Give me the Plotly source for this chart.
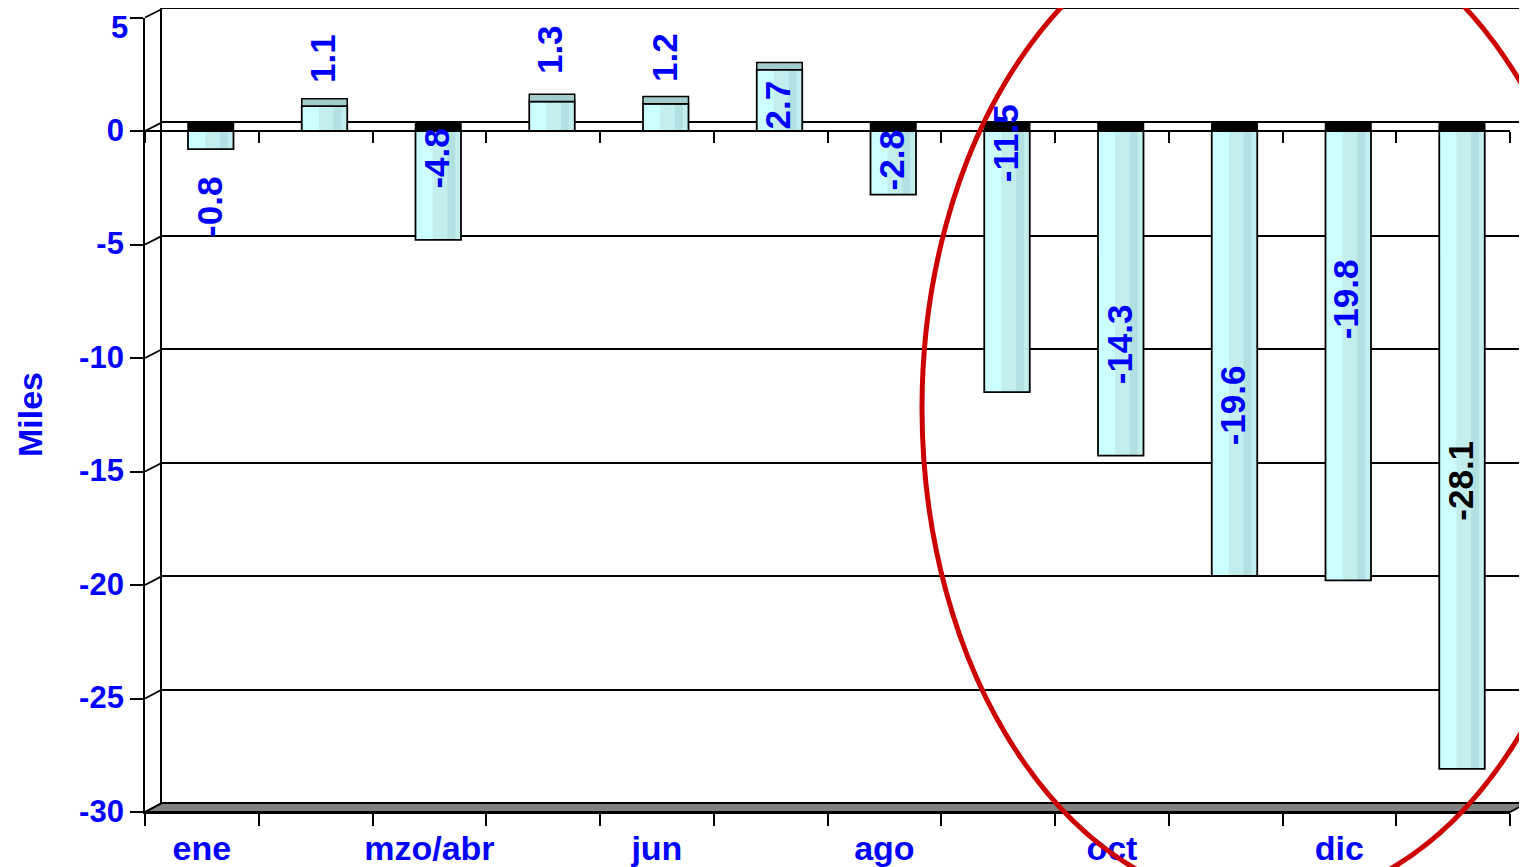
import plotly.graph_objects as go

# ---------------- data ----------------
categories = ["ene", "feb", "mzo/abr", "may", "jun", "jul", "ago", "sep", "oct", "nov", "dic", "ene sig."]
tick_labels = ["ene", "", "mzo/abr", "", "jun", "", "ago", "", "oct", "", "dic", ""]
values = [-0.8, 1.1, -4.8, 1.3, 1.2, 2.7, -2.8, -11.5, -14.3, -19.6, -19.8, -28.1]
y_ticks = [5, 0, -5, -10, -15, -20, -25, -30]
y_tick_text = ["5", "0", "-5", "-10", "-15", "-20", "-25", "-30"]

# label placement (value units) and colours
label_pos = [-3.35, 3.2, -1.2, 3.57, 3.26, 1.15, -1.28, -0.53, -9.4, -12.1, -7.4, -15.4]
label_colors = ["#0000ff"] * 11 + ["#000000"]

# ---------------- geometry / style ----------------
OFF = 8                      # page body margin of the browser
W, H = 1527 - OFF, 867 - OFF
FRONT_L, FRONT_R, FRONT_T, FRONT_B = 145 - OFF, 1510 - OFF, 17.5 - OFF, 812 - OFF
BACK_L, BACK_R, BACK_T, BACK_B = 162 - OFF, 1527 - OFF, 9 - OFF, 803 - OFF
ML, MT = FRONT_L, BACK_T
MR, MB = W - BACK_R, H - FRONT_B
PW, PH = W - ML - MR, H - MT - MB
DX, DY = (BACK_L - FRONT_L) / PW, (FRONT_B - BACK_B) / PH
FRONT_X1 = (FRONT_R - ML) / PW
FRONT_Y1 = (FRONT_B - FRONT_T) / PH
YMIN, YMAX = -30, 5
FONT = "Liberation Sans, Arial, sans-serif"
BLUE = "#0000ff"
TICK_LEN = 13

BAR_OFF, BAR_W = -0.122, 0.40
CAP_H = 0.32


def px_x(p):
    return (p - OFF - ML) / PW


def px_y(p):
    return (H - MB - (p - OFF)) / PH


fig = go.Figure()

# back wall subplot (x, y) - only gridlines
fig.add_trace(go.Scatter(x=[], y=[], xaxis="x", yaxis="y", showlegend=False))

# cylinder-like bars on front subplot (x2, y2)
fig.add_trace(go.Bar(x=categories, y=values, xaxis="x2", yaxis="y2",
                     offset=BAR_OFF, width=BAR_W, marker=dict(color="#ccffff", line=dict(width=0)),
                     showlegend=False, hoverinfo="skip"))
fig.add_trace(go.Bar(x=categories, y=values, xaxis="x2", yaxis="y2",
                     offset=BAR_OFF + 0.15, width=BAR_W - 0.15, marker=dict(color="#c2eeee", line=dict(width=0)),
                     showlegend=False, hoverinfo="skip"))
fig.add_trace(go.Bar(x=categories, y=values, xaxis="x2", yaxis="y2",
                     offset=BAR_OFF + 0.28, width=BAR_W - 0.33, marker=dict(color="#b3e1e1", line=dict(width=0)),
                     showlegend=False, hoverinfo="skip"))
fig.add_trace(go.Bar(x=categories, y=values, xaxis="x2", yaxis="y2",
                     offset=BAR_OFF, width=BAR_W,
                     marker=dict(color="rgba(0,0,0,0)", line=dict(color="black", width=1.8)),
                     showlegend=False, hoverinfo="skip"))
# caps: top for positive bars, dark opening at zero for negative bars
fig.add_trace(go.Bar(x=categories, y=[CAP_H] * len(values), base=[max(v, 0) for v in values],
                     xaxis="x2", yaxis="y2", offset=BAR_OFF, width=BAR_W,
                     marker=dict(color=["#a3cccc" if v > 0 else "#000000" for v in values],
                                 line=dict(color="black", width=1.5)),
                     showlegend=False, hoverinfo="skip"))
# axis at zero with boundary ticks
fig.add_trace(go.Scatter(x=[], y=[], xaxis="x3", yaxis="y2", showlegend=False))

tickfont = dict(family=FONT, size=31, color=BLUE, weight="bold")

# the top tick label would be clipped by the page edge: draw it as an annotation instead
shown_y_tick_text = ["" if v == YMAX else t for v, t in zip(y_ticks, y_tick_text)]

fig.update_layout(
    width=W, height=H,
    margin=dict(l=ML, r=MR, t=MT, b=MB, autoexpand=False),
    paper_bgcolor="white", plot_bgcolor="rgba(0,0,0,0)",
    barmode="overlay",
    showlegend=False,
    xaxis=dict(domain=[DX, 1], anchor="y", range=[0, 1], showticklabels=False, ticks="",
               showgrid=False, zeroline=False, showline=True, mirror=True, automargin=False,
               linecolor="black", linewidth=1.8, fixedrange=True),
    yaxis=dict(domain=[DY, 1], anchor="x", range=[YMIN, YMAX], tickvals=y_ticks,
               showticklabels=False, ticks="", showgrid=True, gridcolor="black", gridwidth=1.5,
               zeroline=False, showline=True, linecolor="black", linewidth=1.8, automargin=False,
               fixedrange=True),
    xaxis2=dict(domain=[0, FRONT_X1], anchor="y2", type="category", categoryorder="array",
                categoryarray=categories, range=[-0.5, len(categories) - 0.5],
                tickmode="array", tickvals=categories, ticktext=tick_labels, tickangle=0,
                tickson="boundaries", ticks="outside", ticklen=12, tickwidth=1.8, tickcolor="black",
                ticklabelstandoff=5,
                showgrid=False, zeroline=False, showline=True, linecolor="black", linewidth=1.8,
                automargin=False,
                tickfont=dict(family=FONT, size=34, color=BLUE, weight="bold"), fixedrange=True),
    yaxis2=dict(domain=[0, FRONT_Y1], anchor="x2", range=[YMIN, YMAX],
                tickmode="array", tickvals=y_ticks, ticktext=shown_y_tick_text,
                ticks="outside", ticklen=TICK_LEN, tickwidth=1.8, tickcolor="black",
                ticklabelshift=-1,
                showgrid=False, zeroline=True, zerolinecolor="black", zerolinewidth=1.8,
                showline=True, linecolor="black", linewidth=1.8, tickfont=tickfont,
                automargin=False, fixedrange=True),
    xaxis3=dict(overlaying="x2", anchor="free", side="bottom",
                position=FRONT_Y1 * (0 - YMIN) / (YMAX - YMIN),
                range=[-0.5, len(categories) - 0.5],
                tickvals=[i - 0.5 for i in range(len(categories) + 1)],
                showticklabels=False, ticks="outside", ticklen=11, tickwidth=1.8, tickcolor="black",
                showgrid=False, zeroline=False, showline=True, linecolor="black", linewidth=1.8,
                automargin=False, fixedrange=True),
)

shapes = []
# floor
shapes.append(dict(type="path", xref="paper", yref="paper",
                   path=f"M 0,0 L {DX},{DY} L 1,{DY} L {FRONT_X1},0 Z",
                   fillcolor="#808080", line=dict(color="black", width=1.8), layer="above"))
# depth connectors at each y tick
for v in y_ticks:
    frac = (v - YMIN) / (YMAX - YMIN)
    yf = FRONT_Y1 * frac
    yb = DY + (1 - DY) * frac
    shapes.append(dict(type="line", xref="paper", yref="paper", x0=0, y0=yf, x1=DX, y1=yb,
                       line=dict(color="black", width=1.8)))
# red highlight ellipse
shapes.append(dict(type="circle", xref="paper", yref="paper",
                   x0=px_x(922), x1=px_x(1604), y0=px_y(905), y1=px_y(-89),
                   line=dict(color="#cc0000", width=5), layer="above"))
fig.update_layout(shapes=shapes)

annotations = []
for c, v, p, col in zip(categories, values, label_pos, label_colors):
    annotations.append(dict(x=c, y=p, xref="x2", yref="y2", text=f"{v:.1f}", showarrow=False,
                            textangle=-90, xshift=7, xanchor="center", yanchor="middle",
                            font=dict(family=FONT, size=35, color=col, weight="bold")))
annotations.append(dict(x=px_x(30), y=px_y(415), xref="paper", yref="paper",
                        text="Miles", showarrow=False, textangle=-90,
                        xanchor="center", yanchor="middle",
                        font=dict(family=FONT, size=34, color=BLUE, weight="bold")))
# top y tick label
annotations.append(dict(x=0, y=1, xref="paper", yref="paper", text=y_tick_text[y_ticks.index(YMAX)],
                        showarrow=False, xanchor="right", yanchor="top", xshift=-(TICK_LEN + 2),
                        yshift=1, font=tickfont))
fig.update_layout(annotations=annotations)

fig.write_html("out.html")
